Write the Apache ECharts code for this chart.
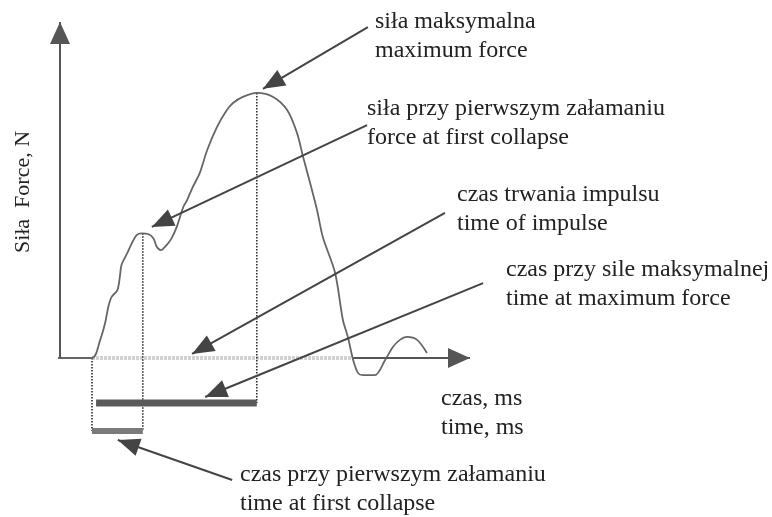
<!DOCTYPE html>
<html>
<head>
<meta charset="utf-8">
<script src="https://cdn.jsdelivr.net/npm/echarts@6/dist/echarts.min.js"></script>
<style>
  html, body { margin: 0; padding: 0; background: #fff; }
  #chart { width: 772px; height: 517px; }
</style>
</head>
<body>
<div id="chart"></div>
<script>
// force curve, time in ms (arbitrary units), force in N (arbitrary units)
const curveTime = [-0.5, 7.8, 9.8, 11.0, 11.8, 12.6, 14.0, 14.6, 15.0, 16.4, 17.5, 18.7, 19.9, 21.5, 22.8, 23.6, 24.6, 26.0, 27.2, 28.5, 30.1,
  31.0, 32.4, 34.1, 35.9, 38.3, 40.7, 42.2, 44.6, 48.0, 52.0, 55.4, 57.8, 59.3, 61.0, 62.7, 64.1, 67.1, 69.0, 70.2, 71.5, 72.7, 73.9, 76.8, 79.3, 81.2, 82.9, 84.6, 87.1, 89.5];
const curveForce = [0, 0, 5.4, 10.4, 15.3, 18.2, 20.2, 24.2, 27.7, 31.2, 34.1, 36.6, 37.1, 36.9, 35.6, 33.1, 32.1, 33.6, 35.6, 39.1, 45.0,
  47.0, 50.9, 55.1, 61.9, 68.8, 73.8, 75.9, 77.7, 78.9, 77.7, 73.8, 67.0, 59.8, 52.1, 44.0, 36.0, 25.3, 11.3, 6.3, -0.6, -4.5, -5.1, -5.1, -0.6, 3.3, 5.4, 6.3, 5.4, 1.5];

// characteristic points
const impulseStart = 7.8;
const impulseEnd = 71.2;
const firstCollapseTime = 20.2;
const firstCollapseForce = 37.1;
const maxForceTime = 48.0;
const maxForce = 78.9;
const maxBarStart = 8.8;
const maxBarLevel = -13.4;
const collapseBarLevel = -21.7;

// annotation texts and arrows (tail -> tip, data units)
const notePl = ['siła maksymalna', 'siła przy pierwszym załamaniu', 'czas trwania impulsu', 'czas przy sile maksymalnej', 'czas, ms', 'czas przy pierwszym załamaniu'];
const noteEn = ['maximum force', 'force at first collapse', 'time of impulse', 'time at maximum force', 'time, ms', 'time at first collapse'];
const arrowFrom = [[75.1, 98.5], [74.9, 69.3], [93.9, 43.2], [103.2, 22.3], null, [42.0, -36.3]];
const arrowTo = [[49.5, 80.1], [22.4, 39.0], [32.2, 1.2], [35.4, -11.6], null, [14.1, -24.4]];
const axisX = [71.5, 100];
const axisY = [0, 100];

const yLabel = 'Siła  Force, N';

// layout of the text blocks (px)
const notePos = [[375, 22], [367, 109], [457, 195], [506, 270], [441, 399], [240, 475]];
const lineGap = 29;

const font = '24px "Liberation Serif", "Times New Roman", serif';

const chart = echarts.init(document.getElementById('chart'));

const arrowLines = [];
arrowFrom.forEach((f, i) => {
  if (f) arrowLines.push([{ coord: f }, { coord: arrowTo[i] }]);
});

const graphics = [];
notePl.forEach((t, i) => {
  graphics.push({ type: 'text', x: notePos[i][0], y: notePos[i][1], silent: true,
    style: { text: t, font: font, fill: '#222', verticalAlign: 'middle' } });
  graphics.push({ type: 'text', x: notePos[i][0], y: notePos[i][1] + lineGap, silent: true,
    style: { text: noteEn[i], font: font, fill: '#222', verticalAlign: 'middle' } });
});
graphics.push({ type: 'text', x: 23, y: 192, rotation: Math.PI / 2, silent: true,
  style: { text: yLabel, font: '22px "Liberation Serif", serif', fill: '#222', align: 'center', verticalAlign: 'middle' } });

const seg = (a, b, color, width, type, z) => ({
  type: 'line', data: [a, b], symbol: 'none', silent: true, clip: false, z: z || 2,
  lineStyle: { color: color, width: width, type: type || 'solid', cap: 'butt' }
});

const option = {
  animation: false,
  grid: { left: 51.8, right: 261, top: 22, bottom: 24.6 },
  xAxis: { type: 'value', min: -2, max: 110, show: false },
  yAxis: { type: 'value', min: -40, max: 100, show: false },
  graphic: graphics,
  series: [
    // light band: time of impulse
    seg([impulseStart, 0], [impulseEnd, 0], '#d2d2d2', 4, [3, 1], 1),
    // dotted guides
    seg([impulseStart, 0], [impulseStart, collapseBarLevel], '#222', 1.5, 'dotted'),
    seg([firstCollapseTime, firstCollapseForce], [firstCollapseTime, collapseBarLevel], '#222', 1.5, 'dotted'),
    seg([maxForceTime, maxForce], [maxForceTime, maxBarLevel], '#222', 1.5, 'dotted'),
    // time bars
    seg([maxBarStart, maxBarLevel], [maxForceTime, maxBarLevel], '#5a5a5a', 7),
    seg([impulseStart, collapseBarLevel], [firstCollapseTime, collapseBarLevel], '#7a7a7a', 6),
    {
      type: 'line', symbol: 'none', smooth: 0.3, clip: false, silent: true, z: 3,
      data: curveTime.map((t, i) => [t, curveForce[i]]),
      lineStyle: { color: '#666', width: 1.8 }
    },
    {
      type: 'line', data: [], silent: true, z: 4,
      markLine: {
        silent: true, animation: false,
        symbol: ['none', 'triangle'], symbolSize: [20, 22], symbolOffset: [0, [0, 11]],
        label: { show: false },
        lineStyle: { color: '#555', width: 2, type: 'solid' },
        data: [
          [{ coord: [0, axisY[0]] }, { coord: [0, axisY[1]] }],
          [{ coord: [axisX[0], 0] }, { coord: [axisX[1], 0] }]
        ]
      }
    },
    {
      type: 'line', data: [], silent: true, z: 4,
      markLine: {
        silent: true, animation: false,
        symbol: ['none', 'triangle'], symbolSize: [18, 22], symbolOffset: [0, [0, 11]],
        label: { show: false },
        lineStyle: { color: '#444', width: 2, type: 'solid' },
        data: arrowLines
      }
    }
  ]
};

chart.setOption(option);
</script>
</body>
</html>
